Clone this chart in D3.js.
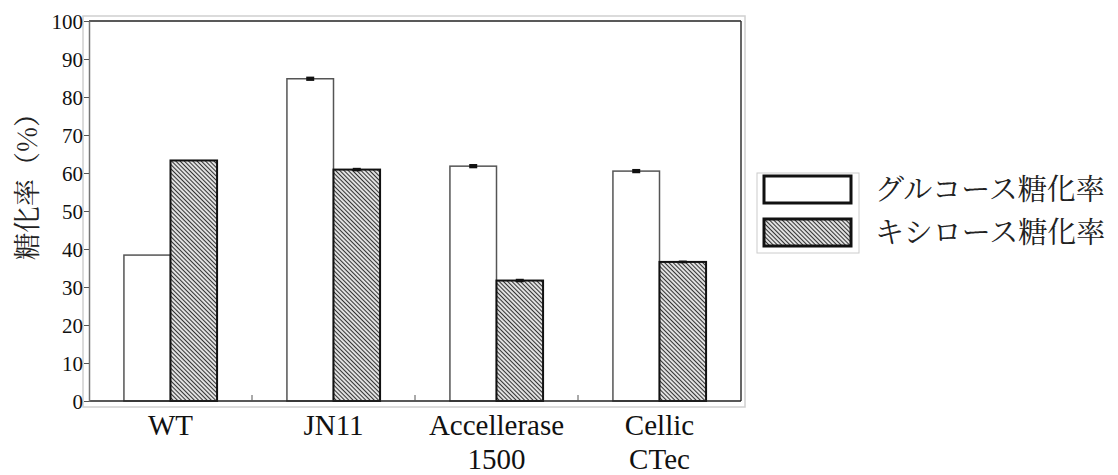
<!DOCTYPE html>
<html>
<head>
<meta charset="utf-8">
<script src="https://cdn.jsdelivr.net/npm/d3@7"></script>
<style>
  body { margin: 0; background: #fff; }
  svg { display: block; }
  .num { font-family: 'Liberation Serif', 'Times New Roman', serif; }
  .jp { font-family: 'Noto Serif CJK JP', 'Noto Sans CJK JP', serif; }
</style>
</head>
<body>
<div id="chart"></div>
<script>
// data
const categories = [["WT"], ["JN11"], ["Accellerase", "1500"], ["Cellic", "CTec"]];
const seriesNames = ["グルコース糖化率", "キシロース糖化率"];
const glucose = [38.4, 84.8, 61.8, 60.5];
const xylose = [63.3, 60.9, 31.7, 36.6];
const glucoseErr = [0, 0.3, 0.3, 0.3];
const xyloseErr = [0, 0.2, 0.2, 0.1];
const yTicks = [0, 10, 20, 30, 40, 50, 60, 70, 80, 90, 100];

const width = 1118, height = 475;
const plot = { left: 89, top: 21, right: 741, bottom: 401 };

const svg = d3.select("#chart").append("svg")
  .attr("width", width)
  .attr("height", height);

// hatch pattern for the xylose bars ("\\\\" direction)
const defs = svg.append("defs");
const pat = defs.append("pattern")
  .attr("id", "hatch")
  .attr("patternUnits", "userSpaceOnUse")
  .attr("width", 3).attr("height", 3)
  .attr("patternTransform", "rotate(45)");
pat.append("rect").attr("width", 3).attr("height", 3).attr("fill", "#fff");
pat.append("line")
  .attr("x1", 0).attr("y1", 1.5).attr("x2", 3).attr("y2", 1.5)
  .attr("stroke", "#333").attr("stroke-width", 1.3);

const keys = categories.map(c => c.join(" "));
const x0 = d3.scaleBand().domain(keys).range([plot.left, plot.right]).padding(0);
const x1 = d3.scaleBand().domain([0, 1]).range([0, x0.bandwidth()]).paddingInner(0).paddingOuter(0.75);
const y = d3.scaleLinear().domain([0, 100]).range([plot.bottom, plot.top]);

// outer light frame
svg.append("rect")
  .attr("x", plot.left - 6).attr("y", plot.top - 5)
  .attr("width", plot.right - plot.left + 10).attr("height", plot.bottom - plot.top + 11)
  .attr("fill", "none").attr("stroke", "#d0d0d0").attr("stroke-width", 1.5);

// bars
const rows = keys.map((k, i) => ({ key: k, vals: [glucose[i], xylose[i]], errs: [glucoseErr[i], xyloseErr[i]] }));
const groups = svg.selectAll("g.grp").data(rows).enter().append("g")
  .attr("class", "grp")
  .attr("transform", d => "translate(" + x0(d.key) + ",0)");

groups.selectAll("rect.bar")
  .data(d => d.vals.map((v, s) => ({ v: v, s: s })))
  .enter().append("rect")
  .attr("class", "bar")
  .attr("x", d => x1(d.s))
  .attr("y", d => y(d.v))
  .attr("width", x1.bandwidth())
  .attr("height", d => y(0) - y(d.v))
  .attr("fill", d => d.s === 0 ? "#fff" : "url(#hatch)")
  .attr("stroke", d => d.s === 0 ? "#555" : "#111")
  .attr("stroke-width", d => d.s === 0 ? 1.5 : 2);

// error bars (tiny)
groups.selectAll("rect.err")
  .data(d => d.vals.map((v, s) => ({ v: v, s: s, e: d.errs[s] })).filter(d => d.e > 0))
  .enter().append("rect")
  .attr("class", "err")
  .attr("x", d => x1(d.s) + x1.bandwidth() / 2 - 4)
  .attr("y", d => y(d.v + d.e) - 1)
  .attr("width", 8)
  .attr("height", d => y(d.v - d.e) - y(d.v + d.e) + 2)
  .attr("fill", "#111");

// frame lines
svg.append("line").attr("x1", plot.left).attr("x2", plot.right).attr("y1", plot.top).attr("y2", plot.top)
  .attr("stroke", "#222").attr("stroke-width", 1.5);
svg.append("line").attr("x1", plot.right).attr("x2", plot.right).attr("y1", plot.top).attr("y2", plot.bottom)
  .attr("stroke", "#333").attr("stroke-width", 1.5);
svg.append("line").attr("x1", plot.left).attr("x2", plot.right).attr("y1", plot.bottom).attr("y2", plot.bottom)
  .attr("stroke", "#222").attr("stroke-width", 1.5);

// y axis
const yAxis = svg.append("g")
  .attr("transform", "translate(" + plot.left + ",0)")
  .call(d3.axisLeft(y).tickValues(yTicks).tickSize(5).tickPadding(1).tickSizeOuter(0));
yAxis.attr("font-family", null).attr("font-size", null);
yAxis.select(".domain").attr("stroke", "#777").attr("stroke-width", 1.5);
yAxis.selectAll(".tick line").attr("stroke", "#555");
yAxis.selectAll(".tick text")
  .attr("class", "num").style("font-size", "21px").attr("fill", "#111")
  .attr("dy", "0.36em");

// category boundary ticks on the bottom axis
svg.selectAll("line.sep").data(keys.slice(1)).enter().append("line")
  .attr("class", "sep")
  .attr("x1", d => x0(d)).attr("x2", d => x0(d))
  .attr("y1", plot.bottom).attr("y2", plot.bottom - 6)
  .attr("stroke", "#555").attr("stroke-width", 1);

// x labels
const xl = svg.selectAll("text.xl").data(rows).enter().append("text")
  .attr("class", "xl num")
  .attr("x", d => x0(d.key) + x0.bandwidth() / 2)
  .attr("y", 435)
  .attr("text-anchor", "middle")
  .style("font-size", "29px").attr("fill", "#111");
xl.each(function(d, i) {
  const t = d3.select(this);
  categories[i].forEach((line, j) => {
    t.append("tspan").attr("x", x0(d.key) + x0.bandwidth() / 2).attr("dy", j === 0 ? 0 : 34).text(line);
  });
});

// y title
svg.append("text")
  .attr("class", "jp")
  .attr("transform", "translate(37,180) rotate(-90)")
  .attr("text-anchor", "middle")
  .style("font-size", "27px").attr("fill", "#222")
  .text("糖化率（%）");

// legend
const lg = svg.append("g");
lg.append("rect")
  .attr("x", 757).attr("y", 173).attr("width", 102).attr("height", 80)
  .attr("fill", "#fff").attr("stroke", "#ccc").attr("stroke-width", 1);
seriesNames.forEach((name, i) => {
  lg.append("rect")
    .attr("x", 764).attr("y", 176 + i * 43).attr("width", 87).attr("height", 27)
    .attr("fill", i === 0 ? "#fff" : "url(#hatch)")
    .attr("stroke", "#111").attr("stroke-width", 3);
  lg.append("text")
    .attr("class", "jp")
    .attr("x", 875).attr("y", 190 + i * 43)
    .attr("dy", "0.36em")
    .style("font-size", "29px").attr("fill", "#222")
    .text(name);
});
</script>
</body>
</html>
